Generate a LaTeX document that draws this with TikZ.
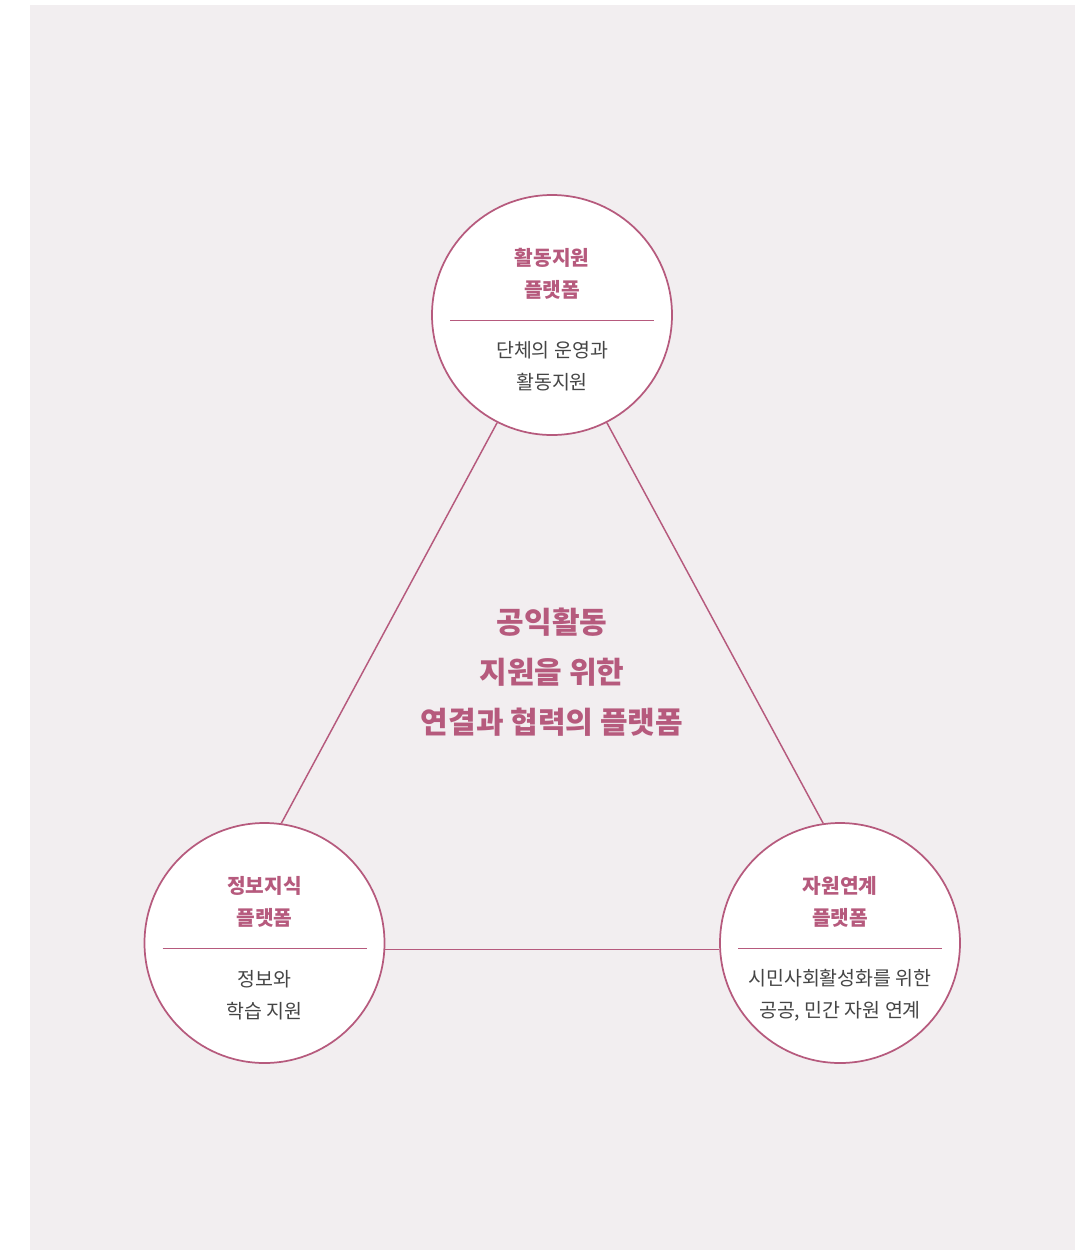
\documentclass[tikz,border=0pt]{standalone}
\usepackage{fontspec}
\setmainfont{Noto Sans CJK KR}
\definecolor{rose}{HTML}{B65A7D}
\definecolor{bodygray}{HTML}{454545}
\definecolor{paper}{HTML}{F2EEF0}
\tikzset{
	platform/.style={circle, draw=rose, line width=1.3pt, fill=white, minimum size=180pt, inner sep=0pt},
	ptitle/.style={text=rose, font=\fontsize{15.2}{24}\selectfont\bfseries, align=center},
	ptext/.style={text=bodygray, font=\fontsize{14.6}{24}\selectfont, align=center},
	maintitle/.style={text=rose, font=\fontsize{22.5}{37.5}\selectfont\bfseries, align=center},
	link/.style={draw=rose, line width=1.1pt},
	divider/.style={draw=rose, line width=0.7pt}
}
\begin{document}
\begin{tikzpicture}[x=0.75pt, y=-0.75pt]
	\useasboundingbox (0,0) rectangle (1087,1250);
	\fill[paper] (30,5) rectangle (1075,1250);
	% three platforms
	\node[platform] (top) at (552,315) {};
	\node[platform] (left) at (264.5,943) {};
	\node[platform] (right) at (840,943) {};
	\draw[link] (top.243) -- (left.82);
	\draw[link] (top.297) -- (right.98);
	\draw[link] (left.-3.4) -- (right.183.4);
	% top
	\node[ptitle] (top-title) at (552,274) {활동지원\\플랫폼};
	\draw[divider] ([shift={(-102,5)}]top.center) -- ([shift={(102,5)}]top.center);
	\node[ptext] (top-text) at (552,366) {단체의 운영과\\활동지원};
	% left
	\node[ptitle] (left-title) at (264.5,902) {정보지식\\플랫폼};
	\draw[divider] ([shift={(-102,5)}]left.center) -- ([shift={(102,5)}]left.center);
	\node[ptext] (left-text) at (264.5,995) {정보와\\학습 지원};
	% right
	\node[ptitle] (right-title) at (840,902) {자원연계\\플랫폼};
	\draw[divider] ([shift={(-102,5)}]right.center) -- ([shift={(102,5)}]right.center);
	\node[ptext] (right-text) at (840,995) {시민사회활성화를 위한\\공공, 민간 자원 연계};
	% middle
	\node[maintitle] (core) at (552,672) {공익활동\\지원을 위한\\연결과 협력의 플랫폼};
\end{tikzpicture}
\end{document}
